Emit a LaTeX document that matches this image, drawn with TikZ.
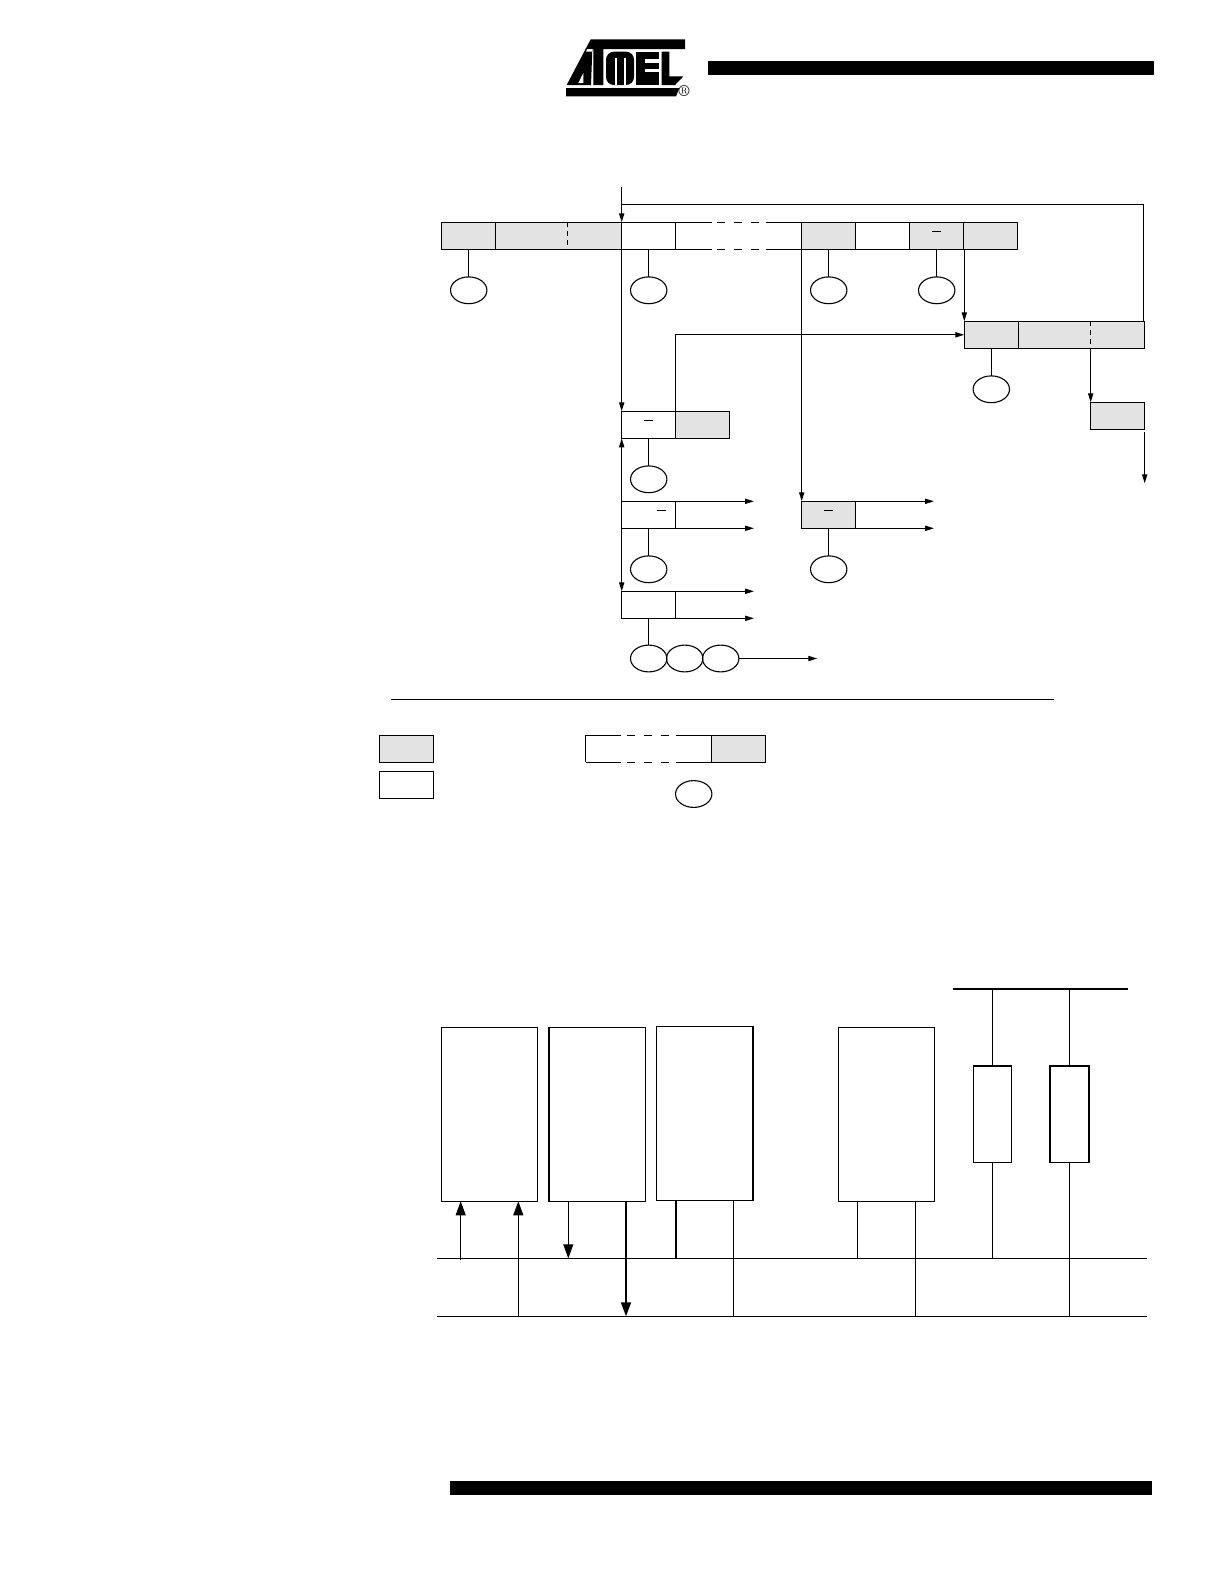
\documentclass[tikz,border=0pt]{standalone}
\usepackage{tikz}
\usetikzlibrary{arrows.meta,shapes.geometric}
\definecolor{cellgray}{HTML}{E3E3E3}
\tikzset{
  cell/.style={draw, line width=.6pt, minimum width=27pt, minimum height=13.5pt, inner sep=0pt, outer sep=0pt},
  gcell/.style={cell, fill=cellgray},
  tag/.style={draw, ellipse, line width=.55pt, minimum width=18.2pt, minimum height=13.4pt, inner sep=0pt, outer sep=0pt},
  block/.style={draw, line width=.55pt, inner sep=0pt, outer sep=0pt},
  wire/.style={line width=.6pt},
  flow/.style={wire, -{Triangle[length=4.5pt,width=2.6pt]}},
  bigflow/.style={line width=.5pt, -{Triangle[length=7pt,width=5pt]}},
  gapdash/.style={line width=.6pt, dash pattern=on 4.2pt off 4.2pt},
  celldash/.style={line width=.6pt, dash pattern=on 2.4pt off 2pt},
  heavy/.style={line width=.95pt},
}
\begin{document}
\begin{tikzpicture}[x=.5pt, y=-.5pt]
  \useasboundingbox (0,0) rectangle (1224,1584);

  % Page bars
  \fill (708,61) rectangle (1154,75);
  \fill (450,1481) rectangle (1152,1495);

  % Logo
  \begin{scope}[shift={(560,35)}, x=.1667pt, y=-.1667pt]
    \fill (92,13) -- (375,13) -- (375,42) -- (130,42) -- (130,150) -- (100,150) -- (100,42)
      -- (97,42) -- (93,150) -- (20,150) -- cycle;
    \fill[white] (55,144) -- (70,114) -- (70,144) -- cycle;
    \fill[white] (82,42) -- (97,42) -- (96,50) -- (78,50) -- cycle;
    \fill[rounded corners=4pt] (138,150) -- (138,50) -- (222,50) -- (222,150) -- cycle;
    \fill[white] (164,70) rectangle (171,150);
    \fill[white] (192,70) rectangle (199,150);
    \fill (228,50) rectangle (298,150);
    \fill[white] (255,73) rectangle (298,84);
    \fill[white] (255,101) rectangle (298,112);
    \fill (305,50) -- (328,50) -- (328,124) -- (370,124) -- (345,150) -- (305,150) -- cycle;
    \fill (18,159) -- (358,159) -- (348,184) -- (18,184) -- cycle;
  \end{scope}
  \node[inner sep=0pt, font=\fontsize{8}{8}\selectfont] (regmark) at (684,91.3) {\textregistered};

  % First row of cells
  \node[gcell] (cellA) at (468.7,235.8) {};
  \node[gcell, minimum width=63pt] (cellB) at (558.7,235.8) {};
  \node[cell] (cellC) at (648.7,235.8) {};
  \node[cell, draw=none, minimum width=63pt] (cellD) at (738.7,235.8) {};
  \node[gcell] (cellE) at (828.7,235.8) {};
  \node[cell] (cellF) at (882.7,235.8) {};
  \node[gcell] (cellG) at (936.7,235.8) {};
  \node[gcell] (cellH) at (990.7,235.8) {};
  % Broken top and bottom of the long cell
  \draw[wire] (cellD.north west) -- ++(36,0);
  \draw[wire] (cellD.north east) -- ++(-36,0);
  \draw[wire] (cellD.south west) -- ++(36,0);
  \draw[wire] (cellD.south east) -- ++(-36,0);
  \draw[gapdash] (717,222.3) -- (760,222.3);
  \draw[gapdash] (717,249.3) -- (760,249.3);
  \draw[celldash] (567.4,222.3) -- (567.4,249.3);
  \draw[wire] (932,231.3) -- (941,231.3);

  % Tags under the first row
  \node[tag] (tagA) at (468.7,290.3) {};
  \node[tag] (tagC) at (648.7,290.3) {};
  \node[tag] (tagE) at (828.7,290.3) {};
  \node[tag] (tagG) at (936.7,290.3) {};
  \draw[wire] (cellA) -- (tagA);
  \draw[wire] (cellC) -- (tagC);
  \draw[wire] (cellE) -- (tagE);
  \draw[wire] (cellG) -- (tagG);

  % Entry line and loop back
  \coordinate (entry) at (621.7,186.5);
  \coordinate (loopT) at (621.7,204.3);
  \draw[flow] (entry) -- (cellC.north west);

  % Return row on the right
  \node[gcell] (retA) at (991.3,334.8) {};
  \node[gcell, minimum width=63pt] (retB) at (1081.7,334.8) {};
  \node[gcell] (retC) at (1117.7,415.8) {};
  \node[tag] (tagR) at (991.3,389.3) {};
  \draw[wire] (retA) -- (tagR);
  \draw[celldash] (1090.7,321.3) -- (1090.7,348.3);
  \draw[wire] (loopT) -| (1143.3,321.3);
  \draw[flow] (retA.north west |- cellH.south) -- (retA.north west);
  \draw[flow] (1090.7,348.3) -- (retC.north west);
  \coordinate (outR) at (1144.7,483.3);
  \draw[flow] (retC.south east)++(0,2.5) -- (outR);

  % Column under the entry line
  \node[cell] (readA) at (648.7,424.8) {};
  \node[gcell] (readB) at (702.7,424.8) {};
  \node[tag] (tagS) at (648.7,479.3) {};
  \draw[wire] (readA) -- (tagS);
  \draw[flow] (cellC.south west) -- (readA.north west);
  \draw[flow] (readB.north west) |- (retA.west);
  \draw[wire] (644,420.3) -- (653,420.3);

  \node[cell] (stepB) at (648.7,514.8) {};
  \node[tag] (tagB) at (648.7,569.3) {};
  \draw[wire] (stepB) -- (tagB);
  \draw[flow] (stepB.north west) -- (readA.south west);
  \coordinate (stepBT) at (754,501.3);
  \coordinate (stepBL) at (754,528.3);
  \draw[flow] (stepB.north east) -- (stepBT);
  \draw[flow] (stepB.south east) -- (stepBL);
  \draw[wire] (657,510.3) -- (666,510.3);

  \node[cell] (stepC) at (648.7,604.8) {};
  \draw[flow] (stepB.south west) -- (stepC.north west);
  \coordinate (stepCT) at (754,591.3);
  \coordinate (stepCL) at (754,618.3);
  \draw[flow] (stepC.north east) -- (stepCT);
  \draw[flow] (stepC.south east) -- (stepCL);

  % Three tags in a chain
  \node[tag] (tagX) at (648.7,658.5) {};
  \node[tag] (tagY) at (684.7,658.5) {};
  \node[tag] (tagZ) at (720.7,658.5) {};
  \coordinate (tagOut) at (817.3,658.5);
  \draw[wire] (stepC) -- (tagX);
  \draw[flow] (tagZ) -- (tagOut);

  % Branch from the first row
  \node[gcell] (stepD) at (828.7,514.8) {};
  \node[tag] (tagD) at (828.7,569.3) {};
  \draw[wire] (stepD) -- (tagD);
  \draw[flow] (cellE.south west) -- (stepD.north west);
  \coordinate (stepDT) at (934,501.3);
  \coordinate (stepDL) at (934,528.3);
  \draw[flow] (stepD.north east) -- (stepDT);
  \draw[flow] (stepD.south east) -- (stepDL);
  \draw[wire] (824,510.3) -- (833,510.3);

  % Divider and legend
  \coordinate (ruleL) at (391,699.3);
  \coordinate (ruleR) at (1054,699.3);
  \draw[line width=.7pt] (ruleL) -- (ruleR);
  \node[gcell] (keyA) at (406.5,748.8) {};
  \node[cell] (keyB) at (406.5,784.8) {};
  \node[cell, draw=none, minimum width=63pt] (keyC) at (648.6,748.8) {};
  \node[gcell] (keyD) at (738.5,748.8) {};
  \draw[wire] (keyC.north west) -- (keyC.south west);
  \draw[wire] (keyC.north west) -- ++(35.4,0);
  \draw[wire] (keyC.north east) -- ++(-35.4,0);
  \draw[wire] (keyC.south west) -- ++(35.4,0);
  \draw[wire] (keyC.south east) -- ++(-35.4,0);
  \draw[gapdash] (627,735.3) -- (672,735.3);
  \draw[gapdash] (627,762.3) -- (672,762.3);
  \node[tag] (keyE) at (693.7,794) {};

  % Lower diagram: two bus lines
  \coordinate (busAL) at (437.3,1258.3);
  \coordinate (busAR) at (1147,1258.3);
  \coordinate (busBL) at (437.3,1316.3);
  \coordinate (busBR) at (1147,1316.3);
  \draw[wire] (busAL) -- (busAR);
  \draw[wire] (busBL) -- (busBR);

  % Blocks
  \node[block, minimum width=48.2pt, minimum height=87pt] (blockA) at (489.5,1114.3) {};
  \node[block, minimum width=48.5pt, minimum height=87pt] (blockB) at (597.2,1114.3) {};
  \node[block, minimum width=48.3pt, minimum height=87pt] (blockC) at (705,1113.3) {};
  \node[block, minimum width=48.2pt, minimum height=87pt] (blockD) at (886.5,1114.3) {};
  \node[block, minimum width=19.2pt, minimum height=48.5pt] (loadA) at (992.5,1114.2) {};
  \node[block, minimum width=19.6pt, minimum height=48.5pt] (loadB) at (1069.6,1114.2) {};
  % Heavier edges
  \draw[heavy] (blockB.north west) -- (blockB.south west);
  \draw[heavy] (blockC.north east) -- (blockC.south east);
  \draw[heavy] (loadA.north west) -- (loadA.north east);
  \draw[heavy] (loadB.south west) -- (loadB.north west) -- (loadB.north east) -- (loadB.south east);

  % Supply rail
  \coordinate (railL) at (953.3,989);
  \coordinate (railR) at (1128,989);
  \draw[line width=1.1pt] (railL) -- (railR);
  \draw[block] (loadA.north |- railL) -- (loadA.north);
  \draw[block] (loadB.north |- railL) -- (loadB.north);

  % Taps on the bus lines
  \coordinate (tapA) at (460.7,1259.5);
  \coordinate (tapB) at (518.3,1317);
  \coordinate (tapC) at (568.3,1258.3);
  \coordinate (tapD) at (626,1316.3);
  \coordinate (tapE) at (676,1258.3);
  \coordinate (tapF) at (733.3,1316.3);
  \coordinate (tapG) at (857.3,1258.3);
  \coordinate (tapH) at (915.3,1316.3);
  \draw[bigflow] (tapA) -- (tapA |- blockA.south);
  \draw[bigflow] (tapB) -- (tapB |- blockA.south);
  \draw[bigflow] (tapC |- blockB.south) -- (tapC);
  \draw[bigflow, line width=.95pt] (tapD |- blockB.south) -- (tapD);
  \draw[heavy] (tapE |- blockC.south) -- (tapE);
  \draw[block] (tapF |- blockC.south) -- (tapF);
  \draw[block] (tapG |- blockD.south) -- (tapG);
  \draw[block] (tapH |- blockD.south) -- (tapH);
  \draw[block] (loadA.south) -- (loadA.south |- busAL);
  \draw[block] (loadB.south) -- (loadB.south |- busBL);
\end{tikzpicture}
\end{document}
